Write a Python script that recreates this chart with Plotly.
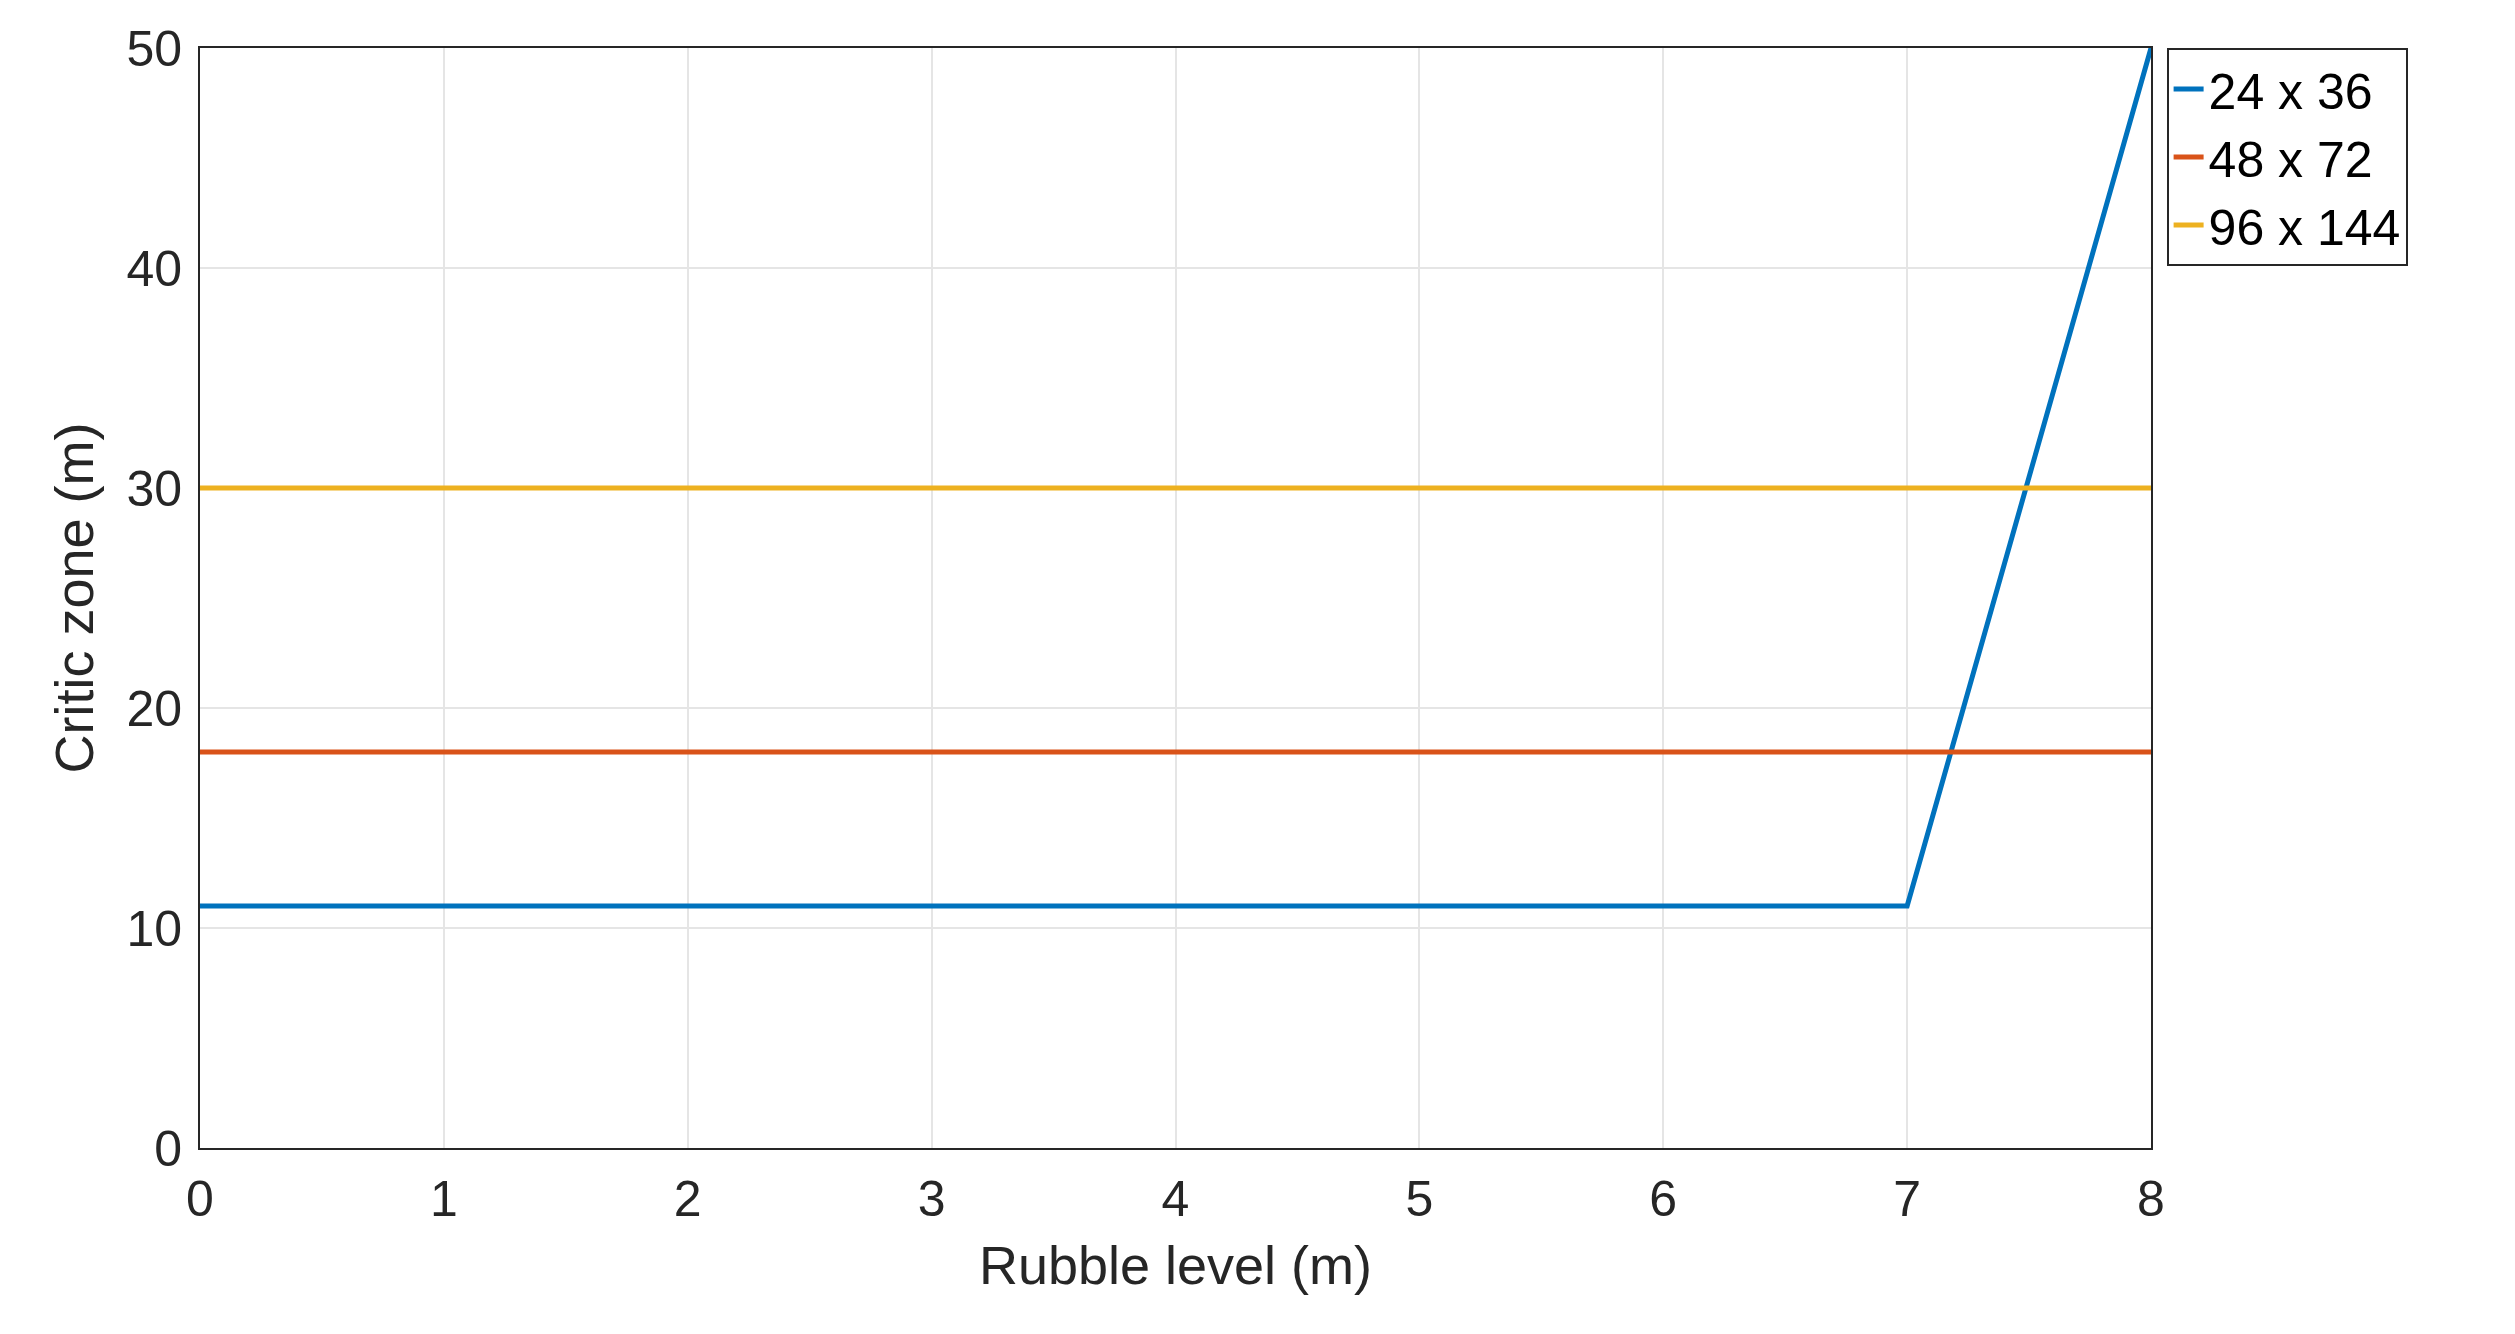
import plotly.graph_objects as go

x_blue = [0, 7, 8]
y_blue = [11, 11, 50]
x_flat = [0, 8]
y_red = [18, 18]
y_yellow = [30, 30]
names = ["24 x 36", "48 x 72", "96 x 144"]
colors = ["#0072BD", "#D95319", "#EDB120"]

fig = go.Figure()
fig.add_trace(go.Scatter(x=x_blue, y=y_blue, mode="lines", name=names[0], line=dict(color=colors[0], width=5)))
fig.add_trace(go.Scatter(x=x_flat, y=y_red, mode="lines", name=names[1], line=dict(color=colors[1], width=5)))
fig.add_trace(go.Scatter(x=x_flat, y=y_yellow, mode="lines", name=names[2], line=dict(color=colors[2], width=5)))

ax = dict(showline=True, linecolor="#262626", linewidth=2, mirror=True, gridcolor="#E5E5E5", gridwidth=1.5,
          zeroline=False, ticks="outside", ticklen=6, tickcolor="white", tickfont=dict(size=50, color="#262626"),
          title_font=dict(size=54, color="#262626"))
fig.update_layout(
    width=2515, height=1334, plot_bgcolor="white", paper_bgcolor="white",
    font=dict(family="Liberation Sans, Arial, sans-serif"),
    margin=dict(l=192, r=372, t=38, b=194),
    xaxis=dict(range=[0, 8], dtick=1, title=dict(text="Rubble level (m)", standoff=20), **ax),
    yaxis=dict(range=[0, 50], dtick=10, title=dict(text="Critic zone (m)", standoff=15), **ax),
    legend=dict(x=1.008, y=1, xanchor="left", yanchor="top", bordercolor="#262626", borderwidth=2,
                font=dict(size=50, color="#000000"), bgcolor="white", tracegroupgap=0),
)
fig.write_html("out.html")
